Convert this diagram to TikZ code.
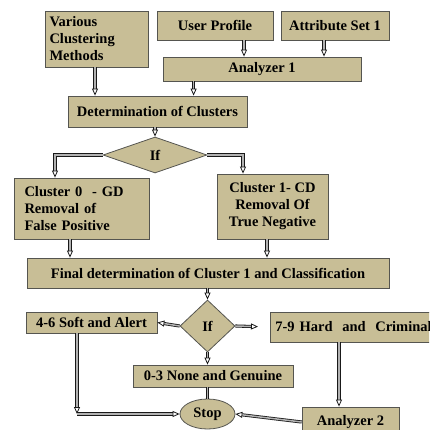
\documentclass[tikz,border=0pt]{standalone}
\usepackage{fontspec}
\setmainfont{Liberation Serif}
\usetikzlibrary{shapes.geometric,arrows.meta}

\definecolor{khaki}{RGB}{200,190,150}
\definecolor{rim}{RGB}{85,85,80}

\tikzset{
    box/.style = {draw=rim, fill=khaki, line width=0.8pt, inner sep=2pt,
        font=\fontsize{14.5}{17}\selectfont\bfseries},
    ifbox/.style = {box, diamond, inner sep=0pt},
    stopbox/.style = {box, ellipse, inner sep=0pt},
    arr/.style = {draw=gray!20!black, double=gray!60, double distance=1.5pt,
        line width=0.8pt, -{Triangle[open, length=7pt, width=6pt]}},
    link/.style = {draw=gray!20!black, double=gray!60, double distance=1.5pt,
        line width=0.8pt}
}

\begin{document}
\begin{tikzpicture}[x=1pt, y=-1pt]
    \useasboundingbox (0,0) rectangle (429,430);
    \clip (0,0) rectangle (429,430);

    % top row
    \node[box, minimum width=103pt, minimum height=56pt, text width=94pt, align=left]
        (methods) at (96.5,39) {Various\\Clustering\\Methods};
    \node[box, minimum width=116pt, minimum height=29pt] (profile) at (215,25.5) {User Profile};
    \node[box, minimum width=108pt, minimum height=29pt] (attrib) at (335,25.5) {Attribute Set 1};
    \node[box, minimum width=198pt, minimum height=24pt] (ana1) at (262,69) {Analyzer 1};
    \node[box, minimum width=179pt, minimum height=31pt] (detclu) at (157.5,111.5) {Determination of Clusters};

    % first decision
    \node[ifbox, minimum width=104pt, minimum height=36pt] (if1) at (155,155) {If};
    \node[box, minimum width=135pt, minimum height=61pt, text width=114pt, align=left]
        (clu0) at (81.5,208.5) {Cluster 0\ \ - GD\\Removal of\\False Positive};
    \node[box, minimum width=111pt, minimum height=65pt, align=center]
        (clu1) at (272.5,206.5) {Cluster 1- CD\\Removal Of\\True Negative};
    \node[box, minimum width=362pt, minimum height=30pt] (final) at (208,273)
        {Final determination of Cluster 1 and Classification};

    % second decision
    \node[ifbox, minimum width=55pt, minimum height=52pt] (if2) at (207.5,326) {If};
    \node[box, minimum width=131pt, minimum height=21pt, inner sep=1pt] (soft) at (91.5,322.5) {4-6 Soft and Alert};
    \node[box, anchor=west, minimum width=200pt, minimum height=30pt, text width=190pt, align=left]
        (hard) at (270,327) {7-9 Hard\ \ and\ \ Criminal};
    \node[box, minimum width=160pt, minimum height=22pt, inner sep=1pt] (none) at (213,376) {0-3 None and Genuine};
    \node[stopbox, minimum width=55pt, minimum height=30pt] (stop) at (207.5,414) {Stop};
    \node[box, minimum width=97pt, minimum height=30pt] (ana2) at (350.5,422) {Analyzer 2};

    \coordinate (bend) at ([xshift=-14.5pt]soft.south |- stop.west);

    % connectors
    \draw[arr] ([xshift=-1.5pt]methods.south) -- ([xshift=-1.5pt]methods.south |- detclu.north);
    \draw[arr] ([xshift=29pt]profile.south) -- ([xshift=29pt]profile.south |- ana1.north);
    \draw[arr] ([xshift=-11pt]attrib.south) -- ([xshift=-11pt]attrib.south |- ana1.north);
    \draw[arr] ([xshift=31pt]ana1.south west) -- ([xshift=31pt]ana1.south west |- detclu.north);
    \draw[arr] (detclu.south -| if1.north) -- (if1.north);
    \draw[arr] (if1.west) -| ([xshift=-26.5pt]clu0.north);
    \draw[arr] (if1.east) -| ([xshift=-29.5pt]clu1.north);
    \draw[arr] ([xshift=-11.5pt]clu0.south) -- ([xshift=-11.5pt]clu0.south |- final.north);
    \draw[arr] ([xshift=-5.5pt]clu1.south) -- ([xshift=-5.5pt]clu1.south |- final.north);
    \draw[arr] (final.south -| if2.north) -- (if2.north);
    \draw[arr] (if2.west) -- (soft.east);
    \draw[arr, shorten >=12pt] (if2.east) -- (hard.west);
    \draw[arr] (if2.south) -- (if2.south |- none.north);
    \draw[link] (stop.north |- none.south) -- (stop.north);
    \draw[arr] ([xshift=-14.5pt]soft.south) -- (bend);
    \draw[arr] (bend) -- (stop.west);
    \draw[arr] ([xshift=69pt]hard.south west) -- ([xshift=69pt]hard.south west |- ana2.north);
    \draw[arr] (ana2.west) -- (stop.east);
\end{tikzpicture}
\end{document}
